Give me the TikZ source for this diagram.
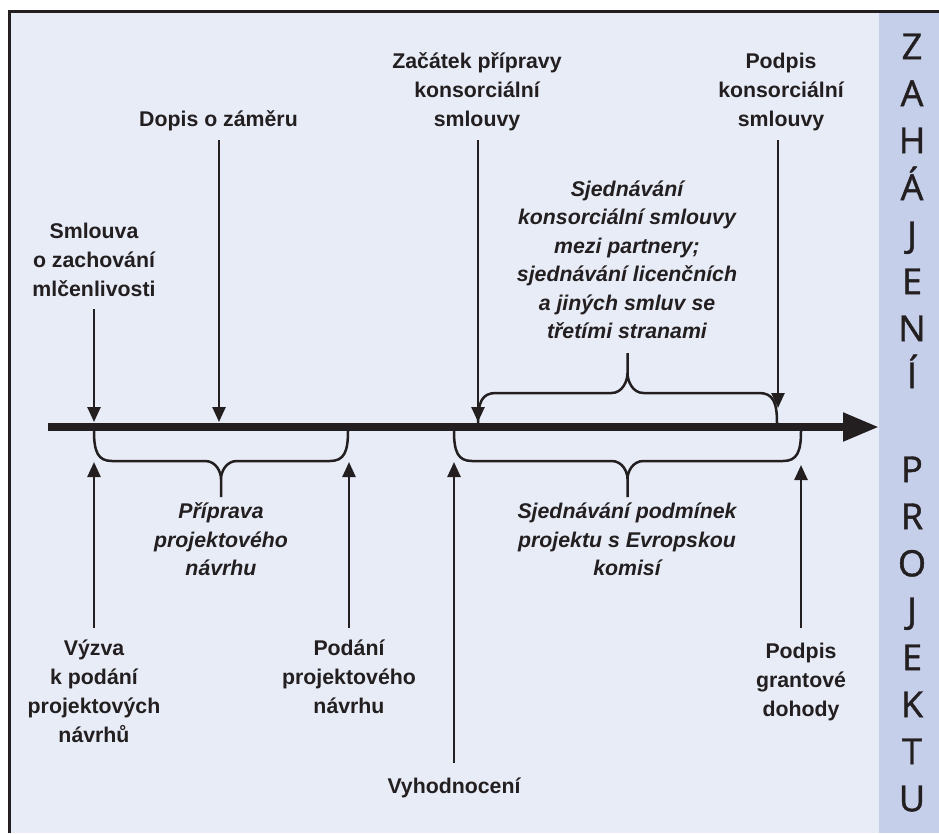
\documentclass[tikz,border=0pt]{standalone}
\usepackage{fontspec}
\setmainfont{Liberation Sans}
\newfontfamily\stripfont[UprightFeatures={FakeBold=1.3}]{Open Sans}
\usetikzlibrary{arrows.meta}
\definecolor{bgc}{HTML}{E8ECF7}
\definecolor{stripc}{HTML}{C5CFEA}
\definecolor{ink}{HTML}{231F20}
\newcommand\tlbrace[5]{%
  \pgfmathsetmacro\bm{(#1+#2)/2}%
  \pgfmathsetmacro\ya{#3+0.7*(#4-#3)}%
  \pgfmathsetmacro\yb{#4+0.3*(#5-#4)}%
  \pgfmathsetmacro\yc{#4+0.5*(#5-#4)}%
  \draw[bracestyle] (#1,#3) .. controls (#1,\ya) and (#1+4,#4) .. (#1+18,#4) -- (\bm-16,#4)
     .. controls (\bm-5,#4) and (\bm,\yb) .. (\bm,\yc) -- (\bm,#5)
     (\bm,\yc) .. controls (\bm,\yb) and (\bm+5,#4) .. (\bm+16,#4) -- (#2-18,#4)
     .. controls (#2-4,#4) and (#2,\ya) .. (#2,#3);%
}
\begin{document}
\begin{tikzpicture}[x=1pt,y=-1pt,
  lbl/.style={inner sep=0pt, align=center, text=ink, font=\fontsize{21.3}{29}\selectfont\bfseries},
  ital/.style={inner sep=0pt, align=center, text=ink, font=\fontsize{21.3}{28.5}\selectfont\bfseries\itshape},
  stripstyle/.style={inner sep=0pt, align=center, text=ink, font=\stripfont\fontsize{36}{47}\selectfont},
  arr/.style={draw=ink, line width=2.5pt, -{Triangle[length=15pt,width=13pt]}},
  bracestyle/.style={draw=ink, line width=2.5pt},
]
\useasboundingbox (0,0) rectangle (939,833);
\fill[bgc] (9,11) rectangle (879,833);
\fill[stripc] (879,11) rectangle (939,833);
\draw[ink, line width=3pt] (9,833) -- (9,11) -- (939,11);

% axis
\coordinate (axL) at (48,427);
\coordinate (axR) at (879,427);
\draw[ink, line width=8pt, -{Triangle[length=36pt,width=27pt]}] (axL) -- (axR);

% braces
\tlbrace{94}{348}{431}{461}{497}
\tlbrace{454}{801}{431}{461}{497}
\tlbrace{478}{777}{423}{393}{353}

% labels above
\node[lbl, anchor=north] (zacatek) at (477,47.7) {\strut Začátek přípravy\\konsorciální\\smlouvy\strut};
\node[lbl, anchor=north] (podpisK) at (781,47.7) {\strut Podpis\\konsorciální\\smlouvy\strut};
\node[lbl, anchor=north] (dopis) at (218.5,105.7) {\strut Dopis o záměru\strut};
\node[lbl, anchor=north] (smlouva) at (94,217.7) {\strut Smlouva\\o zachování\\mlčenlivosti\strut};
\node[ital, anchor=north] (sjedK) at (627,176) {\strut Sjednávání\\konsorciální smlouvy\\mezi partnery;\\sjednávání licenčních\\a jiných smluv se\\třetími stranami};

% labels below
\node[ital, anchor=north] (priprava) at (221,498.7) {\strut Příprava\\projektového\\návrhu};
\node[ital, anchor=north] (sjedEK) at (627,498.7) {\strut Sjednávání podmínek\\projektu s Evropskou\\komisí};
\node[lbl, anchor=north] (vyzva) at (94,634.7) {\strut Výzva\\k podání\\projektových\\návrhů};
\node[lbl, anchor=north] (podani) at (349,634.7) {\strut Podání\\projektového\\návrhu};
\node[lbl, anchor=north] (vyhod) at (454,772.7) {\strut Vyhodnocení};
\node[lbl, anchor=north] (podpisG) at (801,637.7) {\strut Podpis\\grantové\\dohody};

% strip
\node[stripstyle, anchor=north] (zahajeni) at (912,26.1) {\strut Z\\A\\H\\Á\\J\\E\\N\\Í\\\mbox{}\\P\\R\\O\\J\\E\\K\\T\\U};

% arrow tips
\coordinate (smlouvaT) at (94,422);
\coordinate (dopisT) at (219,422);
\coordinate (zacatekT) at (478,422);
\coordinate (podpisKT) at (778,408);
\coordinate (vyzvaT) at (94,462);
\coordinate (podaniT) at (349,462);
\coordinate (vyhodT) at (454,462);
\coordinate (podpisGT) at (801,465);

\draw[arr, shorten <=4.3pt] (smlouva.south -| smlouvaT) -- (smlouvaT);
\draw[arr, shorten <=5.3pt] (dopis.south -| dopisT) -- (dopisT);
\draw[arr, shorten <=5.3pt] (zacatek.south -| zacatekT) -- (zacatekT);
\draw[arr, shorten <=5.3pt] (podpisK.south -| podpisKT) -- (podpisKT);
\draw[arr, shorten <=6.7pt] (vyzva.north -| vyzvaT) -- (vyzvaT);
\draw[arr, shorten <=6.7pt] (podani.north -| podaniT) -- (podaniT);
\draw[arr, shorten <=9.7pt] (vyhod.north -| vyhodT) -- (vyhodT);
\draw[arr, shorten <=9.7pt] (podpisG.north -| podpisGT) -- (podpisGT);
\end{tikzpicture}
\end{document}
